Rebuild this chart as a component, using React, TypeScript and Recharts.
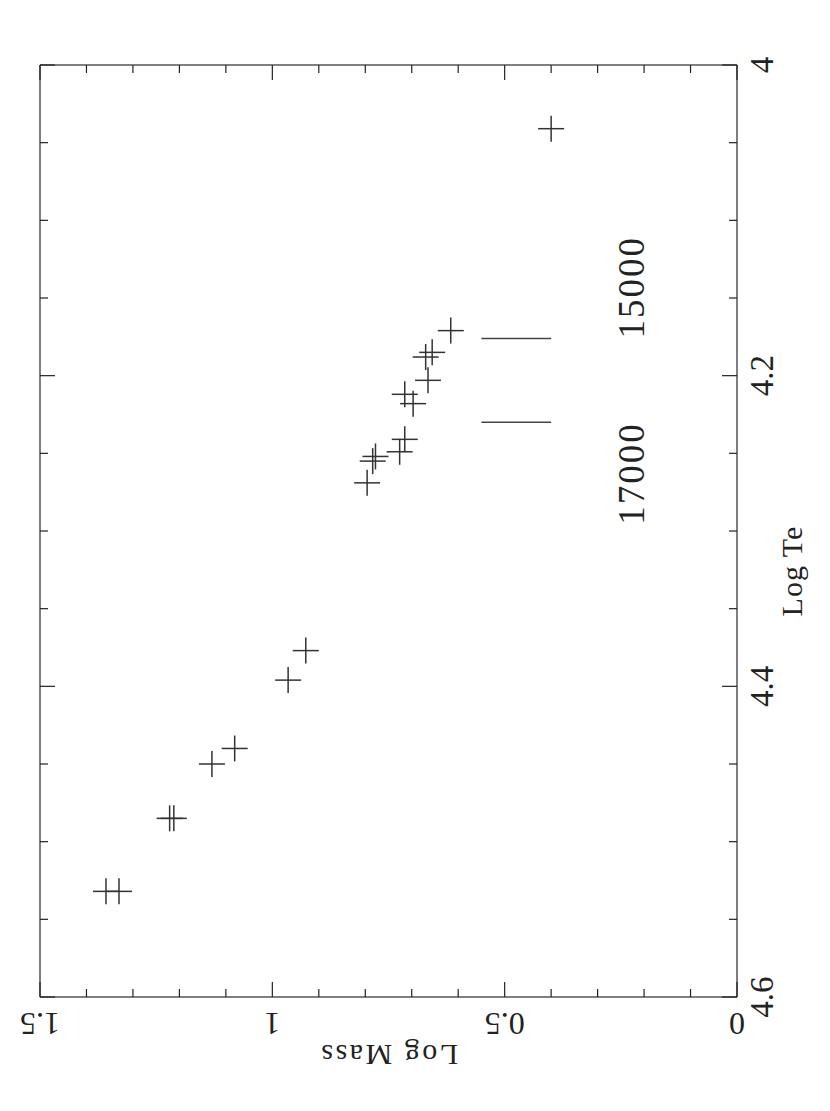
import React from "react";
import {
  ScatterChart,
  Scatter,
  XAxis,
  YAxis,
  ReferenceLine,
  ReferenceDot,
} from "recharts";

// stars: log mass vs log effective temperature (plot is drawn turned on its side)
const logMass = [
  0.4, 0.616, 0.656, 0.67, 0.665, 0.715, 0.697, 0.715, 0.726, 0.778, 0.784,
  0.796, 0.928, 0.966, 1.081, 1.13, 1.221, 1.212, 1.358, 1.33,
];
const logTe = [
  4.041, 4.171, 4.185, 4.188, 4.203, 4.212, 4.218, 4.241, 4.249, 4.252, 4.255,
  4.269, 4.377, 4.396, 4.44, 4.45, 4.485, 4.485, 4.532, 4.532,
];

const massTicks = [0, 0.1, 0.2, 0.3, 0.4, 0.5, 0.6, 0.7, 0.8, 0.9, 1, 1.1, 1.2, 1.3, 1.4, 1.5];
const massLabels = [0, 0.5, 1, 1.5];
const teTicks = [4, 4.05, 4.1, 4.15, 4.2, 4.25, 4.3, 4.35, 4.4, 4.45, 4.5, 4.55, 4.6];
const teLabels = [4, 4.2, 4.4, 4.6];

// temperature markers
const isoTemps = ["15000", "17000"];
const isoLogTe = [4.176, 4.23];
const isoMassRange = [0.4, 0.55];
const isoLabelTe = [4.143, 4.263];
const isoLabelMass = 0.2;

const FONT = '"Liberation Serif", "Times New Roman", serif';
const INK = "#222";
const FRAME = { stroke: "#555", strokeWidth: 1.5 };

const points = logMass.map((m, i) => ({ mass: m, te: logTe[i] }));

const isMajor = (v: number, majors: number[]) =>
  majors.some((m) => Math.abs(m - v) < 1e-6);

function BottomTick(props: any) {
  const { x, y, payload } = props;
  const major = isMajor(payload.value, massLabels);
  const ly = y + 16;
  return (
    <g>
      <line x1={x} y1={y} x2={x} y2={y - (major ? 15 : 8)} stroke={INK} strokeWidth={1.2} />
      {major && (
        <text
          x={x}
          y={ly}
          transform={`rotate(180 ${x} ${ly})`}
          textAnchor="middle"
          fontFamily={FONT}
          fontSize={32}
          fill={INK}
        >
          {String(payload.value)}
        </text>
      )}
    </g>
  );
}

function TopTick(props: any) {
  const { x, y, payload } = props;
  const major = isMajor(payload.value, massLabels);
  return <line x1={x} y1={y} x2={x} y2={y + (major ? 15 : 8)} stroke={INK} strokeWidth={1.2} />;
}

function LeftTick(props: any) {
  const { x, y, payload } = props;
  const major = isMajor(payload.value, teLabels);
  return <line x1={x} y1={y} x2={x + (major ? 15 : 8)} y2={y} stroke={INK} strokeWidth={1.2} />;
}

function RightTick(props: any) {
  const { x, y, payload } = props;
  const major = isMajor(payload.value, teLabels);
  const lx = x + 36;
  return (
    <g>
      <line x1={x} y1={y} x2={x - (major ? 15 : 8)} y2={y} stroke={INK} strokeWidth={1.2} />
      {major && (
        <text
          x={lx}
          y={y}
          transform={`rotate(-90 ${lx} ${y})`}
          textAnchor="middle"
          fontFamily={FONT}
          fontSize={33}
          fill={INK}
        >
          {String(payload.value)}
        </text>
      )}
    </g>
  );
}

function massAxisLabel(props: any) {
  const vb = props.viewBox;
  const cx = vb.x + vb.width / 2;
  const cy = vb.y + 48;
  return (
    <text
      x={cx}
      y={cy}
      transform={`rotate(180 ${cx} ${cy})`}
      textAnchor="middle"
      fontFamily={FONT}
      fontSize={30}
      letterSpacing={2.5}
      fill={INK}
    >
      Log Mass
    </text>
  );
}

function teAxisLabel(props: any) {
  const vb = props.viewBox;
  const cx = vb.x + 65;
  // label sits a little below the middle of the axis in the reference
  const cy = vb.y + vb.height / 2 + 40;
  return (
    <text
      x={cx}
      y={cy}
      transform={`rotate(-90 ${cx} ${cy})`}
      textAnchor="middle"
      fontFamily={FONT}
      fontSize={30}
      letterSpacing={1}
      fill={INK}
    >
      Log Te
    </text>
  );
}

function Cross(props: any) {
  const { cx, cy } = props;
  const r = 13;
  return (
    <g>
      <line x1={cx - r} y1={cy} x2={cx + r} y2={cy} stroke="#333" strokeWidth={1.5} />
      <line x1={cx} y1={cy - r} x2={cx} y2={cy + r} stroke="#333" strokeWidth={1.5} />
    </g>
  );
}

export default function App() {
  return (
    <div style={{ position: "absolute", left: 0, top: 0, background: "#fff" }}>
      <ScatterChart width={830} height={1111} margin={{ top: 0, right: 0, bottom: 0, left: 0 }}>
        <XAxis
          xAxisId="bottom"
          orientation="bottom"
          dataKey="mass"
          type="number"
          domain={[0, 1.5]}
          allowDataOverflow
          reversed
          ticks={massTicks}
          interval={0}
          height={114}
          tickSize={0}
          tickMargin={0}
          tickLine={false}
          axisLine={FRAME}
          tick={(p: any) => <BottomTick {...p} />}
          label={massAxisLabel}
        />
        <XAxis
          xAxisId="top"
          orientation="top"
          dataKey="mass"
          type="number"
          domain={[0, 1.5]}
          allowDataOverflow
          reversed
          ticks={massTicks}
          interval={0}
          height={65}
          tickSize={0}
          tickMargin={0}
          tickLine={false}
          axisLine={FRAME}
          tick={(p: any) => <TopTick {...p} />}
        />
        <YAxis
          yAxisId="right"
          orientation="right"
          dataKey="te"
          type="number"
          domain={[4, 4.6]}
          allowDataOverflow
          reversed
          ticks={teTicks}
          interval={0}
          width={93}
          tickSize={0}
          tickMargin={0}
          tickLine={false}
          axisLine={FRAME}
          tick={(p: any) => <RightTick {...p} />}
          label={teAxisLabel}
        />
        <YAxis
          yAxisId="left"
          orientation="left"
          dataKey="te"
          type="number"
          domain={[4, 4.6]}
          allowDataOverflow
          reversed
          ticks={teTicks}
          interval={0}
          width={40}
          tickSize={0}
          tickMargin={0}
          tickLine={false}
          axisLine={FRAME}
          tick={(p: any) => <LeftTick {...p} />}
        />
        {isoLogTe.map((t, i) => (
          <ReferenceLine
            key={`iso-${i}`}
            xAxisId="bottom"
            yAxisId="right"
            segment={[
              { x: isoMassRange[0], y: t },
              { x: isoMassRange[1], y: t },
            ]}
            stroke="#444"
            strokeWidth={1.5}
          />
        ))}
        {isoTemps.map((label, i) => (
          <ReferenceDot
            key={`iso-label-${i}`}
            xAxisId="bottom"
            yAxisId="right"
            x={isoLabelMass}
            y={isoLabelTe[i]}
            shape={(p: any) => (
              <text
                x={p.cx}
                y={p.cy}
                transform={`rotate(-90 ${p.cx} ${p.cy})`}
                textAnchor="middle"
                fontFamily={FONT}
                fontSize={37}
                letterSpacing={2}
                fill={INK}
              >
                {label}
              </text>
            )}
          />
        ))}
        <Scatter
          data={points}
          xAxisId="bottom"
          yAxisId="right"
          shape={(p: any) => <Cross {...p} />}
          isAnimationActive={false}
        />
      </ScatterChart>
    </div>
  );
}
